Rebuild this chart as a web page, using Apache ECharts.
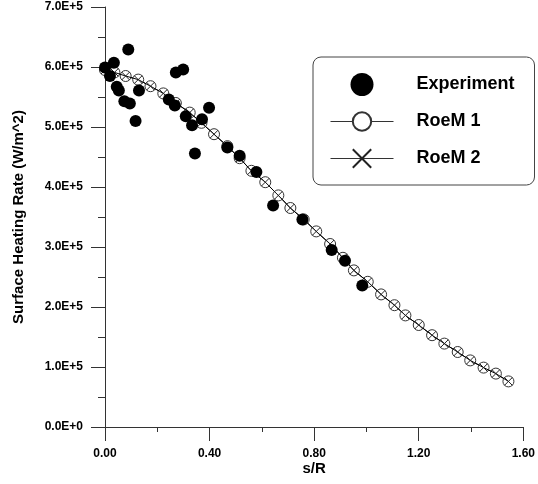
<!DOCTYPE html>
<html>
<head>
<meta charset="utf-8">
<script src="https://cdn.jsdelivr.net/npm/echarts@6/dist/echarts.min.js"></script>
<style>
  html, body { margin: 0; padding: 0; background: #fff; }
  #chart { width: 538px; height: 484px; }
</style>
</head>
<body>
<div id="chart"></div>
<script>
// Measured surface heating rate (W/m^2) against s/R
const expS = [0.000, 0.019, 0.034, 0.045, 0.053, 0.074, 0.089, 0.095, 0.117, 0.130,
              0.244, 0.267, 0.271, 0.299, 0.309, 0.333, 0.344, 0.371, 0.398, 0.468,
              0.515, 0.579, 0.643, 0.755, 0.867, 0.918, 0.984];
const expQ = [599000, 585000, 607000, 567000, 561000, 543000, 629000, 539000, 510000, 561000,
              546000, 536000, 591000, 596000, 518000, 503000, 456000, 513000, 532000, 466000,
              452000, 425000, 369000, 346000, 295000, 277000, 236000];

// Computed heating rate, RoeM scheme (two runs)
const modelS = [0.000, 0.036, 0.079, 0.127, 0.174, 0.223, 0.271, 0.324, 0.369, 0.417,
                0.468, 0.515, 0.560, 0.613, 0.663, 0.709, 0.760, 0.808, 0.861, 0.910,
                0.952, 1.005, 1.056, 1.107, 1.149, 1.200, 1.251, 1.298, 1.349, 1.397,
                1.448, 1.495, 1.543];
const roem1Q = [595000, 591000, 585000, 579000, 568000, 556000, 540000, 524000, 507000, 488000,
                468000, 448000, 427000, 408000, 386000, 365000, 346000, 326000, 305000, 282000,
                261000, 242000, 221000, 203000, 186000, 170000, 153000, 139000, 125000, 111000,
                99000, 89000, 76000];
const roem2Q = [595000, 591000, 585000, 579000, 568000, 556000, 540000, 524000, 507000, 488000,
                468000, 448000, 427000, 408000, 386000, 365000, 346000, 326000, 305000, 282000,
                261000, 242000, 221000, 203000, 186000, 170000, 153000, 139000, 125000, 111000,
                99000, 89000, 76000];

const xTicks = { min: 0, max: 1.6, step: 0.4 };
const yTicks = { min: 0, max: 700000, step: 100000 };

const zip = (xs, ys) => xs.map((x, i) => [x, ys[i]]);
const FONT = "'Liberation Sans', Arial, Helvetica, sans-serif";
const AXIS_COLOR = '#333';

const chart = echarts.init(document.getElementById('chart'), null, { renderer: 'canvas' });

chart.setOption({
  animation: false,
  backgroundColor: '#fff',
  textStyle: { fontFamily: FONT },
  grid: { left: 105, right: 14, top: 7, bottom: 57, containLabel: false },
  legend: {
    orient: 'vertical',
    left: 313,
    top: 57,
    padding: [16, 16, 15, 17],
    itemWidth: 63,
    itemHeight: 23,
    itemGap: 14,
    borderColor: '#444',
    borderWidth: 1,
    borderRadius: 8,
    backgroundColor: '#fff',
    data: ['Experiment', 'RoeM 1', 'RoeM 2'],
    lineStyle: { width: 1, color: '#333' },
    textStyle: {
      fontFamily: FONT,
      fontWeight: 'bold',
      fontSize: 18,
      color: '#000',
      width: 102,
      lineHeight: 23,
      padding: [0, 0, 0, 18]
    }
  },
  xAxis: {
    type: 'value',
    min: xTicks.min,
    max: xTicks.max,
    interval: xTicks.step,
    name: 's/R',
    nameLocation: 'middle',
    nameGap: 34,
    nameMoveOverlap: false,
    nameTextStyle: { fontFamily: FONT, fontWeight: 'bold', fontSize: 15, color: '#000' },
    axisLine: { show: true, onZero: false, lineStyle: { color: AXIS_COLOR, width: 1 } },
    axisTick: { show: true, inside: false, length: 14, lineStyle: { color: AXIS_COLOR, width: 1 } },
    minorTick: { show: true, splitNumber: 2, length: 5, lineStyle: { color: AXIS_COLOR, width: 1 } },
    splitLine: { show: false },
    axisLabel: {
      margin: 21,
      fontFamily: FONT,
      fontWeight: 'bold',
      fontSize: 12,
      color: '#000',
      formatter: v => v.toFixed(2)
    }
  },
  yAxis: {
    type: 'value',
    min: yTicks.min,
    max: yTicks.max,
    interval: yTicks.step,
    name: 'Surface Heating Rate (W/m^2)',
    nameLocation: 'middle',
    nameRotate: 90,
    nameGap: 79,
    nameMoveOverlap: false,
    nameTextStyle: { fontFamily: FONT, fontWeight: 'bold', fontSize: 15, color: '#000' },
    axisLine: { show: true, onZero: false, lineStyle: { color: AXIS_COLOR, width: 1 } },
    axisTick: { show: true, inside: false, length: 14, lineStyle: { color: AXIS_COLOR, width: 1 } },
    minorTick: { show: true, splitNumber: 2, length: 7, lineStyle: { color: AXIS_COLOR, width: 1 } },
    splitLine: { show: false },
    axisLabel: {
      margin: 22,
      fontFamily: FONT,
      fontWeight: 'bold',
      fontSize: 12,
      color: '#000',
      formatter: v => v === 0 ? '0.0E+0' : (v / 1e5).toFixed(1) + 'E+5'
    }
  },
  series: [
    {
      name: 'RoeM 1',
      type: 'line',
      data: zip(modelS, roem1Q),
      symbol: 'circle',
      symbolSize: 11,
      showAllSymbol: true,
      z: 2,
      lineStyle: { color: '#000', width: 1 },
      itemStyle: { color: '#fff', borderColor: '#333', borderWidth: 1 }
    },
    {
      name: 'RoeM 2',
      type: 'line',
      data: zip(modelS, roem2Q),
      symbol: 'path://M0,0L10,10M10,0L0,10',
      symbolSize: 8,
      showAllSymbol: true,
      z: 3,
      lineStyle: { color: '#000', width: 1 },
      itemStyle: { color: 'rgba(0,0,0,0)', borderColor: '#222', borderWidth: 1 }
    },
    {
      name: 'Experiment',
      type: 'scatter',
      data: zip(expS, expQ),
      symbol: 'circle',
      symbolSize: 12,
      z: 4,
      itemStyle: { color: '#000', opacity: 1 }
    }
  ]
});
</script>
</body>
</html>
